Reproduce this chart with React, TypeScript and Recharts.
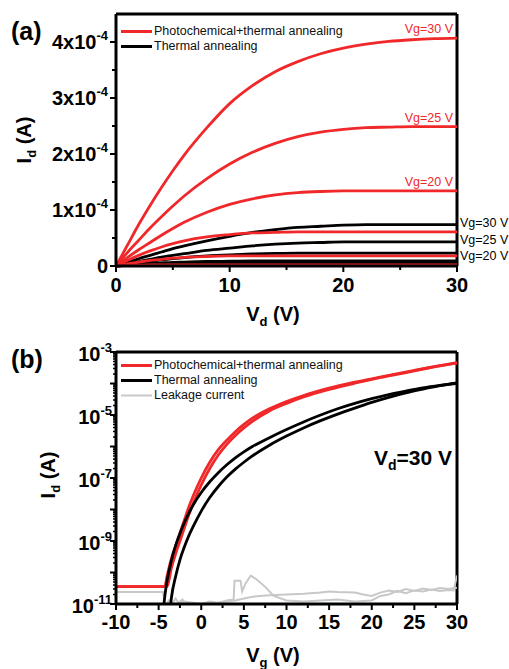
import React from 'react';
import { LineChart, Line, XAxis, YAxis, ReferenceLine, Legend, Customized } from 'recharts';

const RED = '#f0282a';
const GRAY = '#c8c8c8';
const FONT = '"Liberation Sans", Arial, Helvetica, sans-serif';

// ---------------- Panel (a): output curves (Id in units of 1e-4 A) ----------------
const vdValues = [0, 1, 2, 3, 4, 5, 6, 8, 10, 12, 14, 16, 18, 20, 22, 24, 26, 28, 30];
const redVg30 = [0, 0.37, 0.74, 1.08, 1.4, 1.7, 1.98, 2.47, 2.9, 3.22, 3.47, 3.65, 3.79, 3.89, 3.96, 4.01, 4.04, 4.06, 4.07];
const redVg25 = [0, 0.24, 0.46, 0.68, 0.88, 1.07, 1.25, 1.56, 1.82, 2.03, 2.19, 2.31, 2.39, 2.44, 2.47, 2.48, 2.49, 2.49, 2.49];
const redVg20 = [0, 0.15, 0.29, 0.42, 0.55, 0.67, 0.78, 0.96, 1.1, 1.2, 1.27, 1.31, 1.33, 1.34, 1.34, 1.34, 1.34, 1.34, 1.34];
const redVg15 = [0, 0.1, 0.19, 0.27, 0.34, 0.4, 0.45, 0.52, 0.56, 0.59, 0.6, 0.61, 0.61, 0.61, 0.61, 0.61, 0.61, 0.61, 0.61];
const redVg10 = [0, 0.04, 0.07, 0.1, 0.12, 0.14, 0.155, 0.17, 0.18, 0.18, 0.18, 0.18, 0.18, 0.18, 0.18, 0.18, 0.18, 0.18, 0.18];
const redVg5 = [0, 0.01, 0.015, 0.02, 0.02, 0.02, 0.02, 0.02, 0.02, 0.02, 0.02, 0.02, 0.02, 0.02, 0.02, 0.02, 0.02, 0.02, 0.02];
const blackVg30 = [0, 0.06, 0.13, 0.19, 0.25, 0.31, 0.36, 0.45, 0.53, 0.6, 0.65, 0.69, 0.71, 0.73, 0.74, 0.74, 0.74, 0.74, 0.74];
const blackVg25 = [0, 0.04, 0.08, 0.12, 0.16, 0.19, 0.22, 0.28, 0.32, 0.36, 0.39, 0.41, 0.42, 0.43, 0.43, 0.43, 0.43, 0.43, 0.43];
const blackVg20 = [0, 0.03, 0.06, 0.08, 0.11, 0.13, 0.15, 0.18, 0.2, 0.215, 0.225, 0.23, 0.23, 0.23, 0.23, 0.23, 0.23, 0.23, 0.23];
const blackVg15 = [0, 0.015, 0.03, 0.045, 0.055, 0.065, 0.07, 0.08, 0.085, 0.09, 0.09, 0.09, 0.09, 0.09, 0.09, 0.09, 0.09, 0.09, 0.09];
const blackVg10 = [0, 0.01, 0.02, 0.025, 0.03, 0.035, 0.04, 0.045, 0.05, 0.05, 0.05, 0.05, 0.05, 0.05, 0.05, 0.05, 0.05, 0.05, 0.05];

const vdTicks = [0, 5, 10, 15, 20, 25, 30];
const vdMajor = [0, 10, 20, 30];
const idTicksA = [0, 0.5, 1, 1.5, 2, 2.5, 3, 3.5, 4];
const idMajorA = [0, 1, 2, 3, 4];
const idLabelBaseA = ['0', '1x10', '2x10', '3x10', '4x10'];
const idLabelSupA = ['', '-4', '-4', '-4', '-4'];

const outputBlack = [
  { key: 'b10', values: blackVg10, label: '' },
  { key: 'b15', values: blackVg15, label: '' },
  { key: 'b20', values: blackVg20, label: 'Vg=20 V' },
  { key: 'b25', values: blackVg25, label: 'Vg=25 V' },
  { key: 'b30', values: blackVg30, label: 'Vg=30 V' },
];
const outputRed = [
  { key: 'r5', values: redVg5, label: '' },
  { key: 'r10', values: redVg10, label: '' },
  { key: 'r15', values: redVg15, label: '' },
  { key: 'r20', values: redVg20, label: 'Vg=20 V' },
  { key: 'r25', values: redVg25, label: 'Vg=25 V' },
  { key: 'r30', values: redVg30, label: 'Vg=30 V' },
];
const blackLabelShift: Record<string, number> = { b30: -2, b25: -2, b20: 2 };

const outputData = vdValues.map((v, i) => {
  const row: Record<string, number> = { vd: v };
  [...outputBlack, ...outputRed].forEach((s) => { row[s.key] = s.values[i]; });
  return row;
});

// ---------------- Panel (b): transfer curves (Id in A) ----------------
const vgRedF = [-10, -8, -6, -4.3, -4, -3.5, -3, -2.5, -2, -1.5, -1, 0, 1, 2, 3, 4, 5, 6, 8, 10, 12, 15, 18, 20, 22, 25, 28, 30];
const idRedF = [3.55e-11, 3.55e-11, 3.55e-11, 3.55e-11, 7.94e-11, 2.82e-10, 7.08e-10, 1.78e-9, 4.47e-9, 1.12e-8, 2.51e-8, 1e-7, 3.16e-7, 7.94e-7, 1.58e-6, 2.95e-6, 5.01e-6, 7.94e-6, 1.58e-5, 2.69e-5, 4.17e-5, 7.08e-5, 1.1e-4, 1.41e-4, 1.82e-4, 2.63e-4, 3.72e-4, 4.57e-4];
const vgRedR = [-10, -8, -6, -4, -3.5, -3, -2.5, -2, -1.5, -1, 0, 1, 2, 3, 4, 5, 6, 8, 10, 12, 15, 18, 20, 22, 25, 28, 30];
const idRedR = [3.55e-11, 3.55e-11, 3.55e-11, 3.55e-11, 1.41e-10, 3.98e-10, 1e-9, 2.51e-9, 6.31e-9, 1.41e-8, 6.03e-8, 2e-7, 5.37e-7, 1.17e-6, 2.24e-6, 3.89e-6, 6.31e-6, 1.35e-5, 2.34e-5, 3.72e-5, 6.46e-5, 1.02e-4, 1.35e-4, 1.74e-4, 2.51e-4, 3.63e-4, 4.47e-4];
const vgBlackF = [-4.5, -4.2, -4, -3.5, -3, -2.5, -2, -1.5, -1, 0, 1, 2, 3, 4, 5, 6, 8, 10, 12, 14, 16, 18, 20, 22, 24, 26, 28, 30];
const idBlackF = [5.01e-12, 2.51e-11, 5.62e-11, 2.4e-10, 7.24e-10, 1.74e-9, 3.72e-9, 7.24e-9, 1.32e-8, 3.47e-8, 7.59e-8, 1.48e-7, 2.63e-7, 4.37e-7, 6.76e-7, 1e-6, 1.91e-6, 3.47e-6, 6.03e-6, 1e-5, 1.58e-5, 2.34e-5, 3.31e-5, 4.47e-5, 5.75e-5, 7.24e-5, 8.71e-5, 1.02e-4];
const vgBlackR = [-3.7, -3.5, -3, -2.5, -2, -1.5, -1, 0, 1, 2, 3, 4, 5, 6, 8, 10, 12, 14, 16, 18, 20, 22, 24, 26, 28, 30];
const idBlackR = [5.01e-12, 1.58e-11, 7.59e-11, 2.51e-10, 6.31e-10, 1.38e-9, 2.69e-9, 8.91e-9, 2.4e-8, 5.37e-8, 1.07e-7, 1.91e-7, 3.16e-7, 5.01e-7, 1.1e-6, 2.14e-6, 3.89e-6, 6.61e-6, 1.07e-5, 1.66e-5, 2.51e-5, 3.63e-5, 5.01e-5, 6.61e-5, 8.51e-5, 1.05e-4];
const vgLeakA = [-10, -8, -6, -4.5, -4.2, -3.8, -3.5, -3, -2.7, -2.2, -1.8, -1, 0, 1, 2, 3, 3.8, 3.9, 4.6, 4.8, 5.2, 5.8, 6.5, 7.5, 8.5, 10, 12, 14, 16, 18, 20, 21, 22, 23, 24, 25, 26, 27, 28, 29, 29.6, 30];
const idLeakA = [2.4e-11, 2.4e-11, 2.4e-11, 2.4e-11, 9e-12, 1.3e-11, 9e-12, 1.5e-11, 1.1e-11, 1.4e-11, 9e-12, 1.1e-11, 1e-11, 1.2e-11, 1.1e-11, 1.3e-11, 1.4e-11, 5.5e-11, 5.5e-11, 2.5e-11, 4.5e-11, 8e-11, 6e-11, 3.5e-11, 1.8e-11, 1.3e-11, 1.2e-11, 1.3e-11, 1.4e-11, 1.2e-11, 1.3e-11, 1.8e-11, 2e-11, 2.6e-11, 2.2e-11, 2.7e-11, 2.5e-11, 2.9e-11, 2.6e-11, 2.8e-11, 2.7e-11, 8e-11];
const vgLeakB = [-3, -2, 0, 2, 4, 5, 6, 8, 10, 12, 14, 15, 16, 18, 19, 20, 21, 22, 23, 24, 25, 26, 27, 28, 29, 30];
const idLeakB = [1e-11, 1.2e-11, 1e-11, 1.1e-11, 1.3e-11, 1.5e-11, 1.7e-11, 1.9e-11, 2e-11, 2.1e-11, 2.3e-11, 2.5e-11, 2.4e-11, 2.3e-11, 2e-11, 1.8e-11, 2.3e-11, 2.7e-11, 2.4e-11, 3e-11, 2.6e-11, 3.1e-11, 2.8e-11, 3.2e-11, 3e-11, 3.3e-11];

const vgTicks = [-10, -7.5, -5, -2.5, 0, 2.5, 5, 7.5, 10, 12.5, 15, 17.5, 20, 22.5, 25, 27.5, 30];
const vgMajor = [-10, -5, 0, 5, 10, 15, 20, 25, 30];
const decadesB = [1e-11, 1e-10, 1e-9, 1e-8, 1e-7, 1e-6, 1e-5, 1e-4, 1e-3];
const labelDecadesB = [1e-11, 1e-9, 1e-7, 1e-5, 1e-3];
const labelExpB = ['-11', '-9', '-7', '-5', '-3'];
const minorMult = [2, 3, 4, 5, 6, 7, 8, 9];
const idTicksB: number[] = [];
decadesB.forEach((d, i) => {
  idTicksB.push(d);
  if (i < decadesB.length - 1) minorMult.forEach((m) => idTicksB.push(m * d));
});

const toPts = (xs: number[], ys: number[]) => xs.map((x, i) => ({ vg: x, id: ys[i] }));
const transferSeries = [
  { key: 'leakA', color: GRAY, width: 2, type: 'linear', data: toPts(vgLeakA, idLeakA) },
  { key: 'leakB', color: GRAY, width: 2, type: 'linear', data: toPts(vgLeakB, idLeakB) },
  { key: 'redF', color: RED, width: 2.8, type: 'monotone', data: toPts(vgRedF, idRedF) },
  { key: 'redR', color: RED, width: 2.8, type: 'monotone', data: toPts(vgRedR, idRedR) },
  { key: 'blackF', color: '#000', width: 2.8, type: 'monotone', data: toPts(vgBlackF, idBlackF) },
  { key: 'blackR', color: '#000', width: 2.8, type: 'monotone', data: toPts(vgBlackR, idBlackR) },
];

const legendA = [
  { label: 'Photochemical+thermal annealing', color: RED, w: 3 },
  { label: 'Thermal annealing', color: '#000', w: 3 },
];
const legendB = [
  { label: 'Photochemical+thermal annealing', color: RED, w: 3 },
  { label: 'Thermal annealing', color: '#000', w: 3 },
  { label: 'Leakage current', color: GRAY, w: 2 },
];

// ---------------- renderers ----------------
const tickFont = { fontFamily: FONT, fontWeight: 700, fontSize: 20, fill: '#000' } as const;

const renderXTickA = (p: any) => {
  const v = p.payload.value;
  const major = vdMajor.includes(v);
  return (
    <g>
      <line x1={p.x} x2={p.x} y1={p.y} y2={p.y + (major ? 6 : 4)} stroke="#000" strokeWidth={2} />
      {major && <text x={p.x} y={p.y + 26} textAnchor="middle" {...tickFont}>{v}</text>}
    </g>
  );
};
const renderYTickA = (p: any) => {
  const v = p.payload.value;
  const idx = idMajorA.indexOf(v);
  const major = idx >= 0;
  return (
    <g>
      <line x1={p.x} x2={p.x - (major ? 6 : 4)} y1={p.y} y2={p.y} stroke="#000" strokeWidth={2} />
      {major && (
        <text x={p.x - 8} y={p.y + 7} textAnchor="end" {...tickFont}>
          {idLabelBaseA[idx]}
          {idLabelSupA[idx] && <tspan dy={-9} fontSize={13}>{idLabelSupA[idx]}</tspan>}
        </text>
      )}
    </g>
  );
};
const renderXTickB = (p: any) => {
  const v = p.payload.value;
  const major = vgMajor.includes(v);
  return (
    <g>
      <line x1={p.x} x2={p.x} y1={p.y} y2={p.y + (major ? 6 : 4)} stroke="#000" strokeWidth={2} />
      {major && <text x={p.x} y={p.y + 25} textAnchor="middle" {...tickFont}>{v}</text>}
    </g>
  );
};
const renderYTickB = (p: any) => {
  const v = p.payload.value;
  const isDecade = decadesB.some((d) => Math.abs(v / d - 1) < 1e-6);
  const li = labelDecadesB.findIndex((d) => Math.abs(v / d - 1) < 1e-6);
  return (
    <g>
      <line x1={p.x} x2={p.x - (isDecade ? 6 : 3)} y1={p.y} y2={p.y} stroke="#000" strokeWidth={isDecade ? 2 : 1.5} />
      {li >= 0 && (
        <text x={p.x - 4} y={p.y + 9} textAnchor="end" {...tickFont}>
          10<tspan dy={-9} fontSize={13}>{labelExpB[li]}</tspan>
        </text>
      )}
    </g>
  );
};

const makeLegend = (items: { label: string; color: string; w: number }[]) => () => (
  <div style={{ fontFamily: FONT, fontSize: 12.5, color: '#111', lineHeight: '15px' }}>
    {items.map((it) => (
      <div key={it.label} style={{ display: 'flex', alignItems: 'center', height: 15, whiteSpace: 'nowrap' }}>
        <svg width={34} height={15} style={{ display: 'block' }}>
          <line x1={2} x2={33} y1={7.5} y2={7.5} stroke={it.color} strokeWidth={it.w} />
        </svg>
        <span style={{ marginLeft: 1 }}>{it.label}</span>
      </div>
    ))}
  </div>
);

const redEndLabel = (text: string) => (p: any) => {
  const x = p.x ?? p.viewBox?.x;
  const y = p.y ?? p.viewBox?.y;
  if (!text || p.index !== vdValues.length - 1) return <g />;
  return (
    <text x={x - 4} y={y - 5} textAnchor="end" fontFamily={FONT} fontSize={12.5} fill={RED}>{text}</text>
  );
};
const blackEndLabel = (text: string, shift: number) => (p: any) => {
  const x = p.x ?? p.viewBox?.x;
  const y = p.y ?? p.viewBox?.y;
  if (!text || p.index !== vdValues.length - 1) return <g />;
  return (
    <text x={x + 3} y={y + shift + 4.5} textAnchor="start" fontFamily={FONT} fontSize={12.5} fill="#000">{text}</text>
  );
};

const titleFont = { fontFamily: FONT, fontWeight: 700, fontSize: 20, fill: '#000' } as const;

const TitlesA = () => (
  <g>
    <text x={11} y={40} fontFamily={FONT} fontWeight={700} fontSize={25} fill="#000">(a)</text>
    <text transform="translate(31,140) rotate(-90)" textAnchor="middle" {...titleFont}>
      I<tspan dy={5} fontSize={13}>d</tspan><tspan dy={-5}> (A)</tspan>
    </text>
    <text x={273} y={321} textAnchor="middle" {...titleFont}>
      V<tspan dy={5} fontSize={13}>d</tspan><tspan dy={-5}> (V)</tspan>
    </text>
  </g>
);
const TitlesB = () => (
  <g>
    <text x={11} y={38} fontFamily={FONT} fontWeight={700} fontSize={25} fill="#000">(b)</text>
    <text transform="translate(55,145) rotate(-90)" textAnchor="middle" {...titleFont}>
      I<tspan dy={5} fontSize={13}>d</tspan><tspan dy={-5}> (A)</tspan>
    </text>
    <text x={273} y={332} textAnchor="middle" {...titleFont}>
      V<tspan dy={5} fontSize={13}>g</tspan><tspan dy={-5}> (V)</tspan>
    </text>
    <text x={452} y={135} textAnchor="end" fontFamily={FONT} fontWeight={700} fontSize={21} fill="#000">
      V<tspan dy={5} fontSize={14}>d</tspan><tspan dy={-5}>=30 V</tspan>
    </text>
  </g>
);

const axisLine = { stroke: '#000', strokeWidth: 3 };

export default function App() {
  return (
    <div style={{ position: 'absolute', left: 0, top: 0, width: 509, height: 669, background: '#fff' }}>
      <div style={{ position: 'absolute', left: 0, top: 0 }}>
        <LineChart width={509} height={330} data={outputData} margin={{ top: 14, right: 52, bottom: 24, left: 0 }}>
          <XAxis dataKey="vd" type="number" domain={[0, 30]} ticks={vdTicks} interval={0} tickSize={0} tickMargin={0}
            tickLine={false} axisLine={axisLine} tick={renderXTickA} height={40} />
          <YAxis type="number" domain={[0, 4.5]} ticks={idTicksA} interval={0} tickSize={0} tickMargin={0}
            tickLine={false} axisLine={axisLine} tick={renderYTickA} width={116} />
          <ReferenceLine y={4.5} stroke="#000" strokeWidth={3} />
          <ReferenceLine x={30} stroke="#000" strokeWidth={3} />
          {outputBlack.map((s) => (
            <Line key={s.key} dataKey={s.key} type="monotone" stroke="#000" strokeWidth={2.8} dot={false}
              isAnimationActive={false} label={blackEndLabel(s.label, blackLabelShift[s.key] || 0)} />
          ))}
          {outputRed.map((s) => (
            <Line key={s.key} dataKey={s.key} type="monotone" stroke={RED} strokeWidth={2.8} dot={false}
              isAnimationActive={false} label={redEndLabel(s.label)} />
          ))}
          <Legend layout="vertical" verticalAlign="middle" align="center" content={makeLegend(legendA)}
            wrapperStyle={{ left: 119, top: 23.5, width: 'auto', height: 'auto' }} />
          <Customized component={<TitlesA />} />
        </LineChart>
      </div>
      <div style={{ position: 'absolute', left: 0, top: 330 }}>
        <LineChart width={509} height={339} margin={{ top: 22, right: 52, bottom: 25, left: 0 }}>
          <XAxis dataKey="vg" type="number" domain={[-10, 30]} allowDataOverflow ticks={vgTicks} interval={0} tickSize={0}
            tickMargin={0} tickLine={false} axisLine={axisLine} tick={renderXTickB} height={40} />
          <YAxis dataKey="id" type="number" scale="log" domain={[1e-11, 1e-3]} allowDataOverflow ticks={idTicksB} interval={0}
            tickSize={0} tickMargin={0} tickLine={false} axisLine={axisLine} tick={renderYTickB} width={116} />
          <ReferenceLine y={1e-3} stroke="#000" strokeWidth={3} />
          <ReferenceLine x={30} stroke="#000" strokeWidth={3} />
          {transferSeries.map((s) => (
            <Line key={s.key} data={s.data} dataKey="id" type={s.type as any} stroke={s.color} strokeWidth={s.width}
              dot={false} isAnimationActive={false} />
          ))}
          <Legend layout="vertical" verticalAlign="middle" align="center" content={makeLegend(legendB)}
            wrapperStyle={{ left: 119, top: 28, width: 'auto', height: 'auto' }} />
          <Customized component={<TitlesB />} />
        </LineChart>
      </div>
    </div>
  );
}
